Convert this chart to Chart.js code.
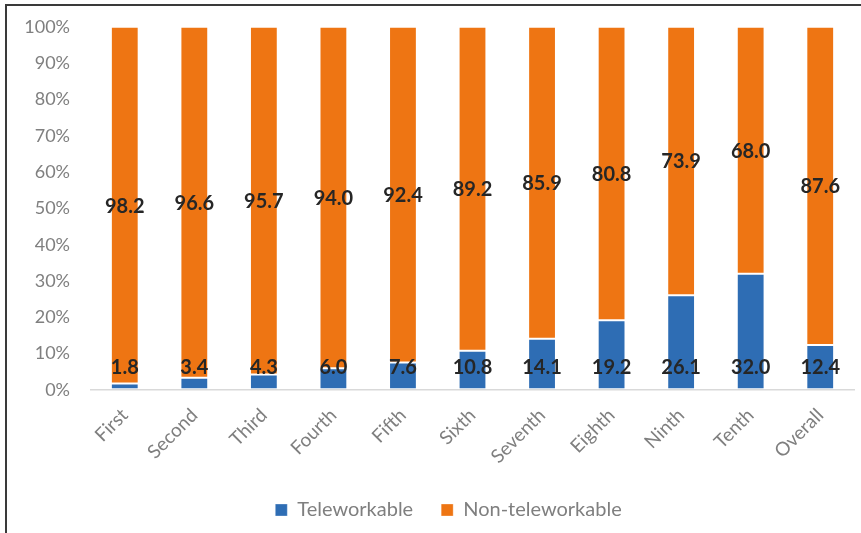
<!DOCTYPE html>
<html>
<head>
<meta charset="utf-8">
<script src="https://cdn.jsdelivr.net/npm/chart.js@4"></script>
<style>
  html, body { margin: 0; padding: 0; background: #fff; overflow: hidden; }
  #wrap { position: relative; width: 861px; height: 533px; overflow: hidden; }
  #frame { position: absolute; left: 5px; top: 4px; width: 900px; height: 600px;
           border-top: 2px solid #3a3a3a; border-left: 2px solid #3a3a3a; }
  canvas { position: absolute; left: 0; top: -4px; }
</style>
</head>
<body>
<div id="wrap">
  <div id="frame"></div>
  <canvas id="c" width="861" height="537"></canvas>
</div>
<script>
const categories = ["First","Second","Third","Fourth","Fifth","Sixth","Seventh","Eighth","Ninth","Tenth","Overall"];
const teleworkable = [1.8, 3.4, 4.3, 6.0, 7.6, 10.8, 14.1, 19.2, 26.1, 32.0, 12.4];
const nonTeleworkable = [98.2, 96.6, 95.7, 94.0, 92.4, 89.2, 85.9, 80.8, 73.9, 68.0, 87.6];
const yTicks = [0,10,20,30,40,50,60,70,80,90,100];

const FONT = "Lato, 'Open Sans', sans-serif";
const GRAY = "#7f7f7f";

const labelPlugin = {
  id: 'barLabels',
  afterLayout(chart) {
    if (chart.legend) { chart.legend.left += 21; chart.legend.right += 21; }
  },
  afterDatasetsDraw(chart) {
    const ctx = chart.ctx;
    ctx.save();
    ctx.font = "bold 20px " + FONT;
    ctx.fillStyle = "#262626";
    ctx.textAlign = "center";
    ctx.textBaseline = "middle";
    chart.data.datasets.forEach((ds, di) => {
      const meta = chart.getDatasetMeta(di);
      meta.data.forEach((bar, i) => {
        const v = ds.data[i];
        const txt = v.toFixed(1);
        let y;
        if (di === 0) {
          y = bar.base - 22;
        } else {
          y = (bar.y + bar.base) / 2 + 1;
        }
        ctx.fillText(txt, bar.x, y);
      });
    });
    ctx.restore();
  }
};

new Chart(document.getElementById('c'), {
  type: 'bar',
  data: {
    labels: categories,
    datasets: [
      { label: 'Teleworkable', data: teleworkable, backgroundColor: '#2e6db4',
        borderColor: 'rgba(255,255,255,0.3)', borderWidth: 1, borderSkipped: false },
      { label: 'Non-teleworkable', data: nonTeleworkable, backgroundColor: '#ee7513',
        borderColor: 'rgba(255,255,255,0.3)', borderWidth: 1, borderSkipped: false }
    ]
  },
  options: {
    responsive: false,
    animation: false,
    devicePixelRatio: 1,
    categoryPercentage: 1.0,
    barPercentage: 0.4,
    layout: { padding: { top: 13, right: 6, left: 0, bottom: 3 } },
    plugins: {
      legend: {
        position: 'bottom',
        labels: {
          color: GRAY,
          font: { family: FONT, size: 20 },
          boxWidth: 12, boxHeight: 12,
          padding: 28
        }
      },
      tooltip: { enabled: false }
    },
    scales: {
      x: {
        stacked: true,
        grid: { display: false },
        border: { display: false },
        ticks: {
          color: GRAY,
          font: { family: FONT, size: 19 },
          maxRotation: 45, minRotation: 45,
          padding: 6
        },
        afterFit(scale) { scale.height = 82; }
      },
      y: {
        stacked: true,
        min: 0, max: 100,
        afterBuildTicks(scale) { scale.ticks = yTicks.map(v => ({ value: v })); },
        grid: {
          drawTicks: false,
          color: ctx => (ctx.tick && ctx.tick.value === 0) ? '#d9d9d9' : 'rgba(0,0,0,0)',
          lineWidth: 1.5
        },
        border: { display: false },
        ticks: {
          color: GRAY,
          font: { family: FONT, size: 18 },
          padding: 20,
          callback: v => v + '%'
        },
        afterFit(scale) { scale.width = 90; }
      }
    }
  },
  plugins: [labelPlugin]
});
</script>
</body>
</html>
